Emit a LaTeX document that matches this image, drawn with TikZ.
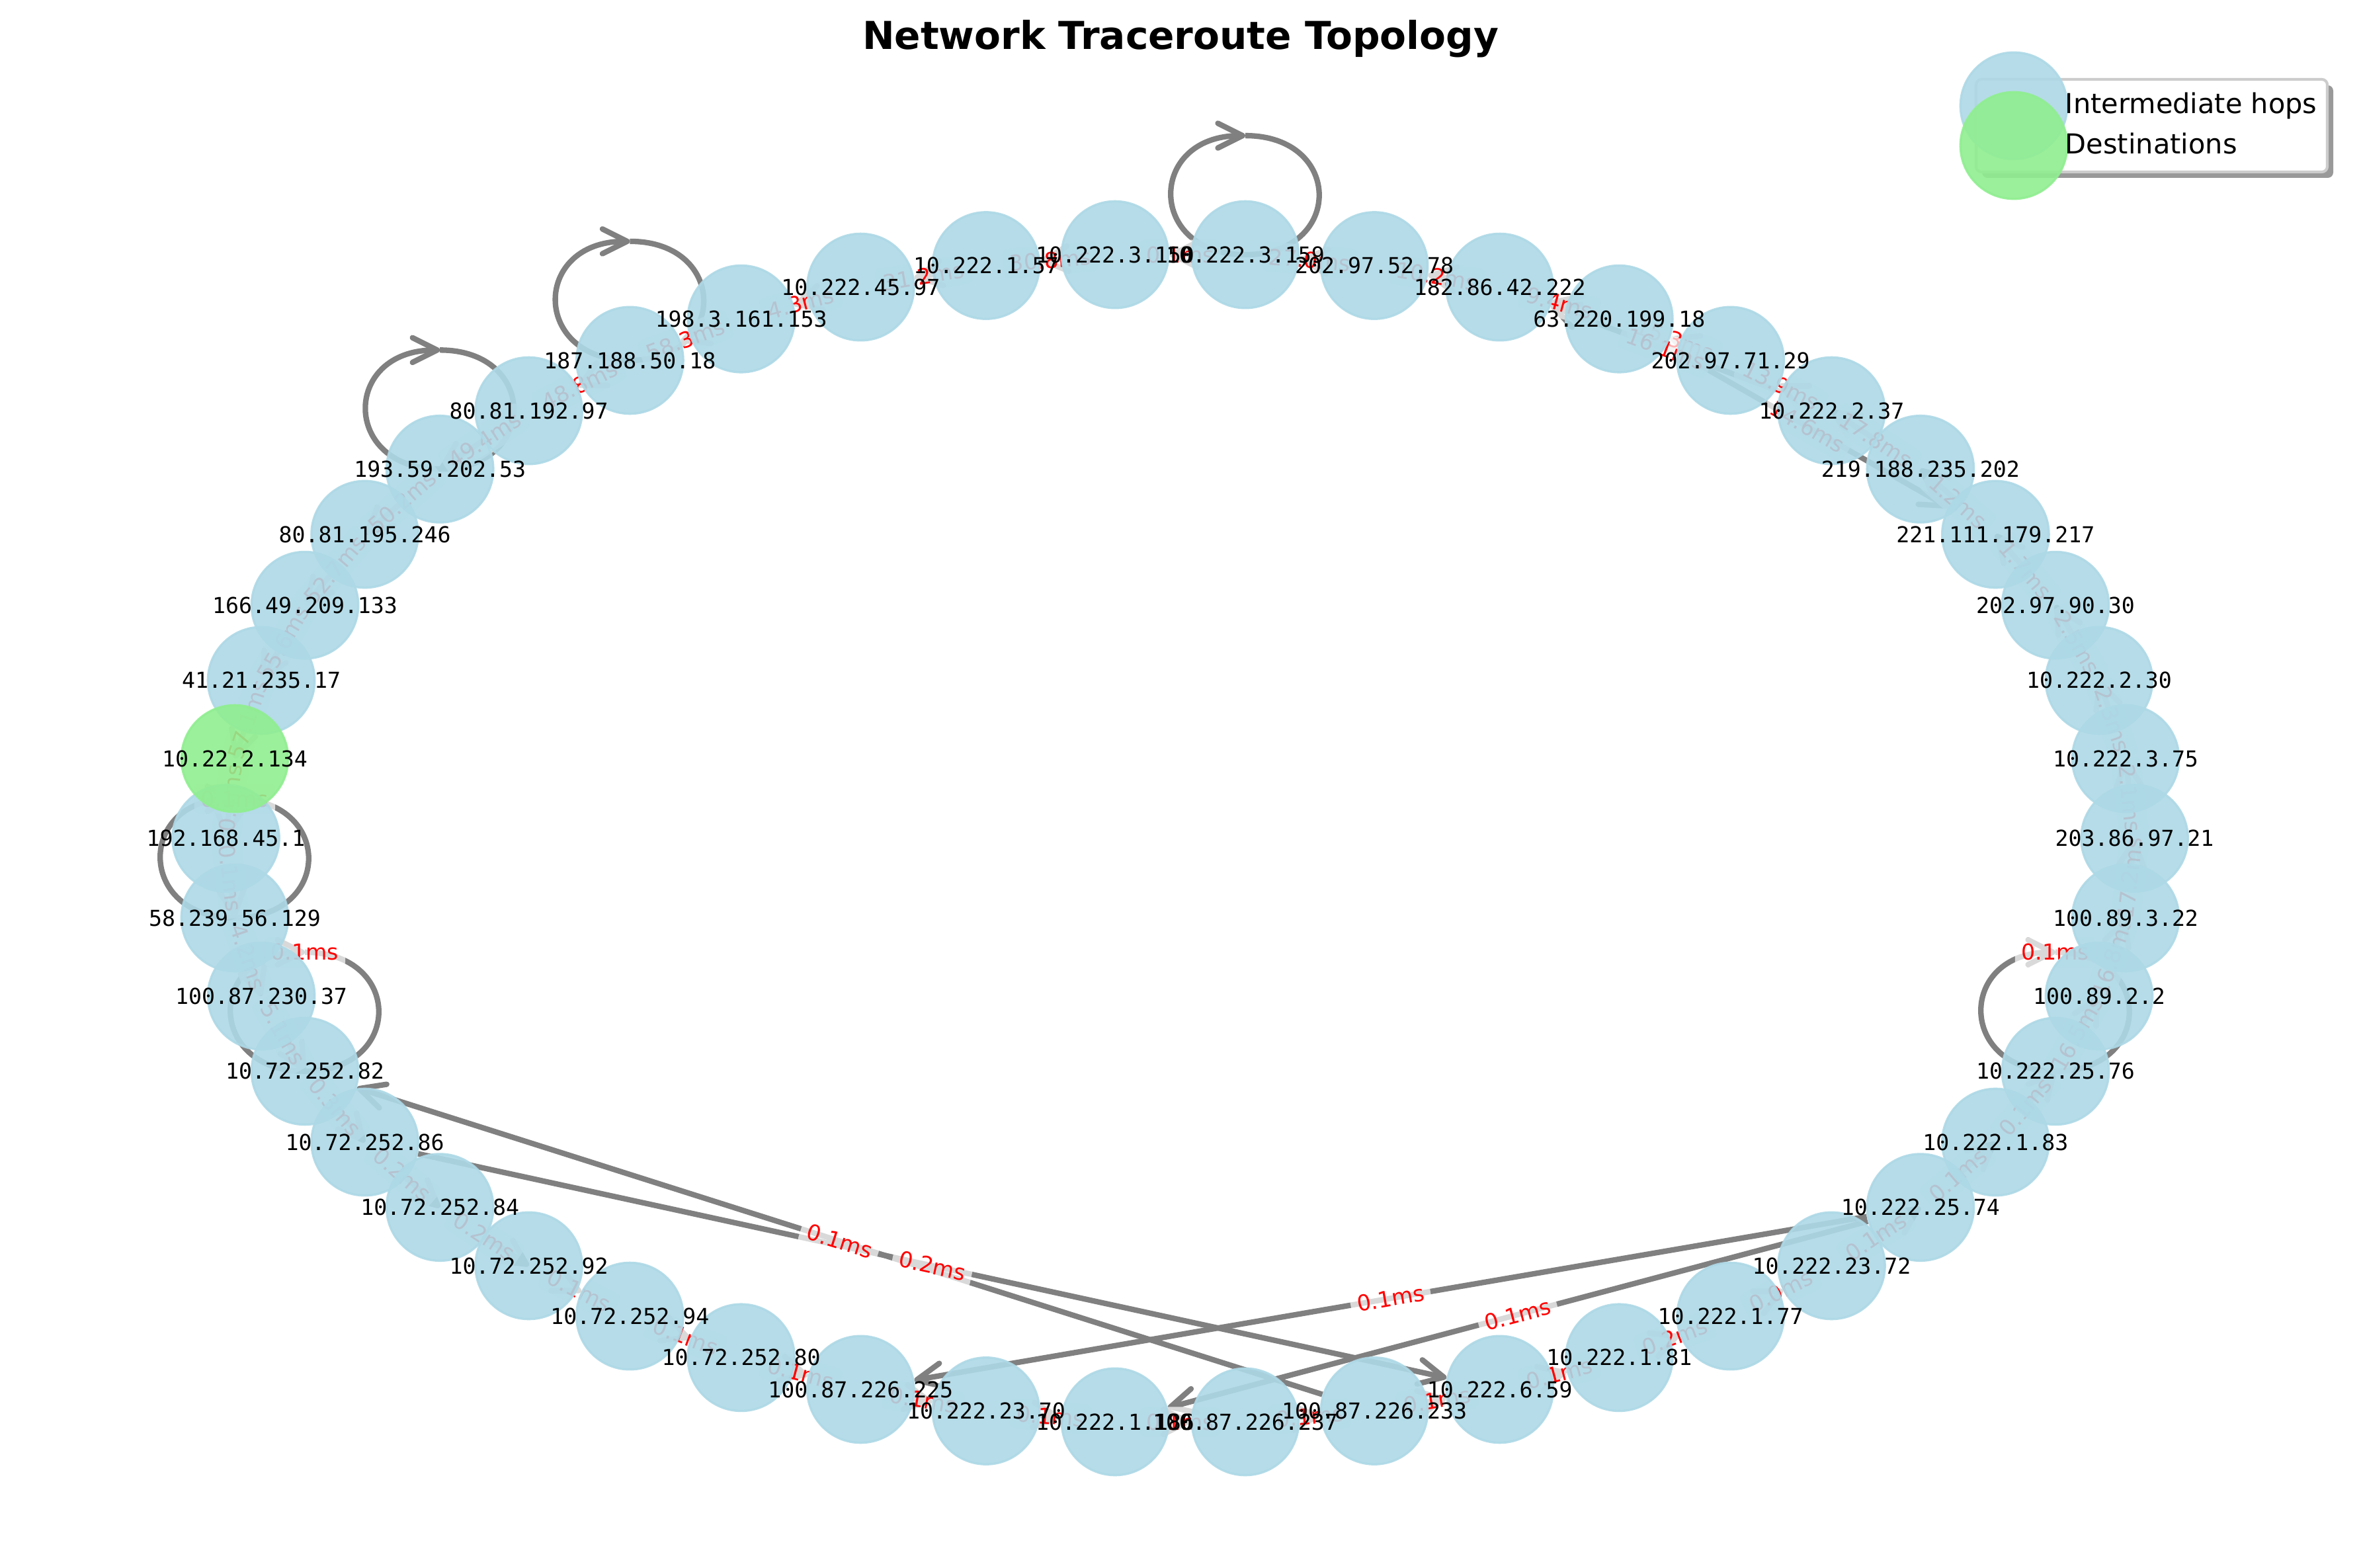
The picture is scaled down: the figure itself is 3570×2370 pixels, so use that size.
\documentclass[tikz,border=0pt]{standalone}
\usepackage{fontspec}
\setmainfont{DejaVu Sans}
\newfontfamily\ipmono{DejaVu Sans Mono}
\usetikzlibrary{arrows.meta,calc}
\definecolor{hopblue}{HTML}{ADD8E6}
\definecolor{destgreen}{HTML}{90EE90}
\definecolor{wiregray}{HTML}{808080}
\definecolor{framegray}{HTML}{CCCCCC}
\pgfdeclarelayer{wires}
\pgfsetlayers{wires,main}

\tikzset{
  hop/.style={circle,minimum size=38.9pt,inner sep=0pt,fill=hopblue,draw=hopblue,
              fill opacity=0.9,draw opacity=0.9,line width=0.8pt},
  dest/.style={hop,fill=destgreen,draw=destgreen},
  iplabel/.style={inner sep=0pt,font={\ipmono\fontsize{8}{9.6}\selectfont}},
  wire/.style={draw=wiregray,line width=2pt,-{Straight Barb[length=9pt,width=9pt,round]}},
  rtt/.style={text=red,fill=white,fill opacity=0.7,text opacity=1,rounded corners=2pt,
              inner sep=2.4pt,font=\fontsize{8}{9.6}\selectfont},
  heading/.style={anchor=base,inner sep=0pt,font=\bfseries\fontsize{14}{17}\selectfont},
  keytext/.style={anchor=base west,inner sep=0pt,font=\fontsize{10}{12}\selectfont}
}

% hop -> hop edges with their round-trip times
\def\nearring{0/1/2.1ms,1/2/2.3ms,2/3/2.5ms,3/4/1.7ms,4/5/1.2ms,5/6/17.8ms,
  17/18/49.4ms,18/19/50.2ms,19/20/52.7ms,20/21/55.6ms,21/22/57.1ms,22/23/0.4ms,
  23/24/0.1ms,24/25/4.2ms,25/26/5.1ms,26/27/0.3ms,27/28/0.2ms,28/29/0.2ms,
  40/41/0.1ms,41/42/0.1ms,42/43/0.1ms,43/44/16.5ms,44/45/16.8ms,45/0/17.2ms}
\def\farring{6/7/13.9ms,7/8/15.3ms,8/9/9.4ms,9/10/10.2ms,10/11/27.0ms,11/12/0.1ms,
  12/13/30.8ms,13/14/31.2ms,14/15/4.3ms,15/16/58.3ms,16/17/48.8ms,29/30/0.1ms,
  30/31/0.1ms,31/32/0.1ms,32/33/0.1ms,33/34/0.1ms,34/35/0.1ms,35/36/0.1ms,
  36/37/0.1ms,37/38/0.1ms,38/39/0.2ms,39/40/0.0ms}
\def\crossing{6/9/16.1ms,8/4/14.6ms,36/26/0.1ms,27/37/0.2ms,41/32/0.1ms,41/34/0.1ms}

\begin{document}
\begin{tikzpicture}[x=0.0084667cm,y=-0.0084667cm]
  \useasboundingbox (0,0) rectangle (3570,2370);
  \node[heading] (title) at (1785,75) {Network Traceroute Topology};

  % circular layout, 46 hops
  \foreach \k in {0,...,45}{
    \ifnum\k=22\relax\else
      \node[hop] (h\k) at ({1784.5+1443*cos(360*\k/46)},{1267.5-884.5*sin(360*\k/46)}) {};
    \fi
  }
  \node[dest] (h22) at ({1784.5+1443*cos(360*22/46)},{1267.5-884.5*sin(360*22/46)}) {};

  \begin{pgfonlayer}{wires}
    \foreach \a/\b/\t in \farring \draw[wire] (h\a) -- (h\b);
    \foreach \a/\b/\t in \crossing \draw[wire] (h\a) -- (h\b);
    \foreach \a/\b/\t in \nearring \draw[wire] (h\a) -- (h\b.center);
    % self loops
    \foreach \k in {11,16,18,24,26,43}
      \draw[wire] ($(h\k.center)+(0,-180)$) .. controls +(149,0) and +(149,0) .. (h\k.center)
        .. controls +(-149,0) and +(-149,0) .. ($(h\k.center)+(0,-180)$);
    \foreach \a/\b/\t in \farring \path (h\a.center) -- node[rtt,sloped] {\t} (h\b.center);
    \foreach \a/\b/\t in \crossing \path (h\a.center) -- node[rtt,sloped] {\t} (h\b.center);
    \foreach \a/\b/\t in \nearring \path (h\a.center) -- node[rtt,sloped] {\t} (h\b.center);
    \foreach \k in {24,26,43}
      \node[rtt] (loop\k) at ($(h\k.center)+(0,-180)$) {0.1ms};
  \end{pgfonlayer}

  \foreach \k/\ip in {0/203.86.97.21,1/10.222.3.75,2/10.222.2.30,3/202.97.90.30,
      4/221.111.179.217,5/219.188.235.202,6/10.222.2.37,7/202.97.71.29,8/63.220.199.18,
      9/182.86.42.222,10/202.97.52.78,11/10.222.3.159,12/10.222.3.150,13/10.222.1.57,
      14/10.222.45.97,15/198.3.161.153,16/187.188.50.18,17/80.81.192.97,18/193.59.202.53,
      19/80.81.195.246,20/166.49.209.133,21/41.21.235.17,22/10.22.2.134,23/192.168.45.1,
      24/58.239.56.129,25/100.87.230.37,26/10.72.252.82,27/10.72.252.86,28/10.72.252.84,
      29/10.72.252.92,30/10.72.252.94,31/10.72.252.80,32/100.87.226.225,33/10.222.23.70,
      34/10.222.1.186,35/100.87.226.237,36/100.87.226.233,37/10.222.6.59,38/10.222.1.81,
      39/10.222.1.77,40/10.222.23.72,41/10.222.25.74,42/10.222.1.83,43/10.222.25.76,
      44/100.89.2.2,45/100.89.3.22}
    \node[iplabel] (t\k) at (h\k) {\ip};

  % legend
  \fill[black!40,rounded corners=2pt] (2997,129) rectangle (3528,269);
  \draw[framegray,fill=white,line width=1pt,rounded corners=2pt] (2988,120) rectangle (3519,260);
  \node[hop] (keyhop) at (3045,160) {};
  \node[dest] (keydest) at (3045,220) {};
  \node[keytext] (keyhoptext) at (3122,172) {Intermediate hops};
  \node[keytext] (keydesttext) at (3122,233) {Destinations};
\end{tikzpicture}
\end{document}
